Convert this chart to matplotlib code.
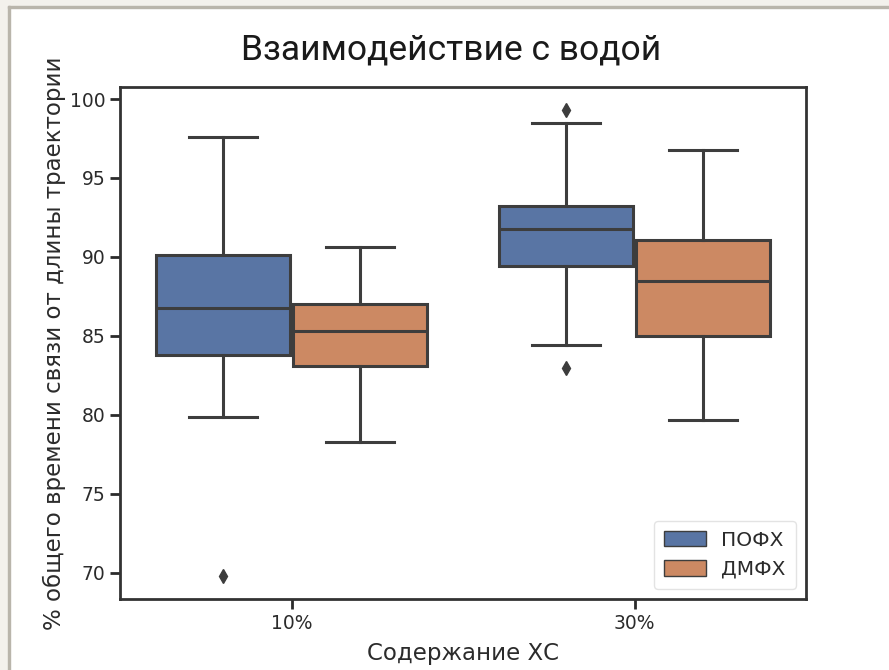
import numpy as np
import matplotlib.pyplot as plt
from matplotlib.patches import Rectangle, Patch

# values (box stats per group)
groups = ["10%", "30%"]
series = ["ПОФХ", "ДМФХ"]
colors = ["#5975a4", "#cc8963"]

whislo = {"ПОФХ": [79.85, 84.4], "ДМФХ": [78.3, 79.7]}
q1 = {"ПОФХ": [83.8, 89.4], "ДМФХ": [83.1, 85.0]}
med = {"ПОФХ": [86.75, 91.8], "ДМФХ": [85.3, 88.5]}
q3 = {"ПОФХ": [90.1, 93.2], "ДМФХ": [87.0, 91.1]}
whishi = {"ПОФХ": [97.6, 98.45], "ДМФХ": [90.65, 96.8]}
fliers = {"ПОФХ": [[69.8], [99.3, 82.95]], "ДМФХ": [[], []]}

line_c = "#3d3d3d"
text_c = "#2b2b2b"

fig = plt.figure(figsize=(8.89, 6.70), dpi=100)
# beige screenshot frame on the left and top
fig.patches.append(Rectangle((0, 0), 8 / 889, 1, transform=fig.transFigure,
                             color="#f3f1ec", zorder=-1))
fig.patches.append(Rectangle((0, 1 - 6 / 670), 1, 6 / 670, transform=fig.transFigure,
                             color="#f3f1ec", zorder=-1))
fig.patches.append(Rectangle((8 / 889, 0), 1.5 / 889, 1 - 6 / 670, transform=fig.transFigure,
                             color="#b9b5ab", zorder=-1))
fig.patches.append(Rectangle((8 / 889, 1 - 7.5 / 670), 1, 1.5 / 670, transform=fig.transFigure,
                             color="#b9b5ab", zorder=-1))

ax = fig.add_axes([120 / 889, 1 - 599 / 670, 686 / 889, 512 / 670])

width = 0.392
offsets = [-0.2, 0.2]
for si, s in enumerate(series):
    stats = []
    for gi, g in enumerate(groups):
        stats.append(dict(med=med[s][gi], q1=q1[s][gi], q3=q3[s][gi],
                          whislo=whislo[s][gi], whishi=whishi[s][gi],
                          fliers=fliers[s][gi]))
    pos = [gi + offsets[si] for gi in range(len(groups))]
    ax.bxp(stats, positions=pos, widths=width, patch_artist=True,
           boxprops=dict(facecolor=colors[si], edgecolor=line_c, lw=2.2),
           medianprops=dict(color=line_c, lw=2.2),
           whiskerprops=dict(color=line_c, lw=2.2),
           capprops=dict(color=line_c, lw=2.2),
           capwidths=width / 2,
           flierprops=dict(marker="d", markerfacecolor=line_c,
                           markeredgecolor=line_c, markersize=7))

ax.set_xlim(-0.5, 1.5)
ax.set_ylim(68.35, 100.76)
ax.set_xticks(range(len(groups)))
ax.set_xticklabels(groups)
ax.set_yticks([70, 75, 80, 85, 90, 95, 100])
ax.tick_params(labelsize=13.5, colors=text_c, length=7, width=2)
for sp in ax.spines.values():
    sp.set_linewidth(2)
    sp.set_color("#333333")

ax.set_xlabel("Содержание ХС", fontsize=16.5, color=text_c, labelpad=7)
ax.set_ylabel("% общего времени связи от длины траектории", fontsize=16.5,
              color=text_c, labelpad=3)

handles = [Patch(facecolor=c, edgecolor=line_c, lw=1) for c in colors]
leg = ax.legend(handles, series, loc="lower right", fontsize=14.5,
                handlelength=2.1, handleheight=0.8, borderpad=0.5,
                labelspacing=0.5, handletextpad=0.75)
for t in leg.get_texts():
    t.set_color(text_c)
leg.get_frame().set_edgecolor("#dddddd")

fig.text(451 / 889, 1 - 50 / 670, "Взаимодействие с водой", fontsize=25.5,
         family="Roboto", ha="center", va="center", color="#1a1a1a")

fig.savefig("out.png", dpi=100)
